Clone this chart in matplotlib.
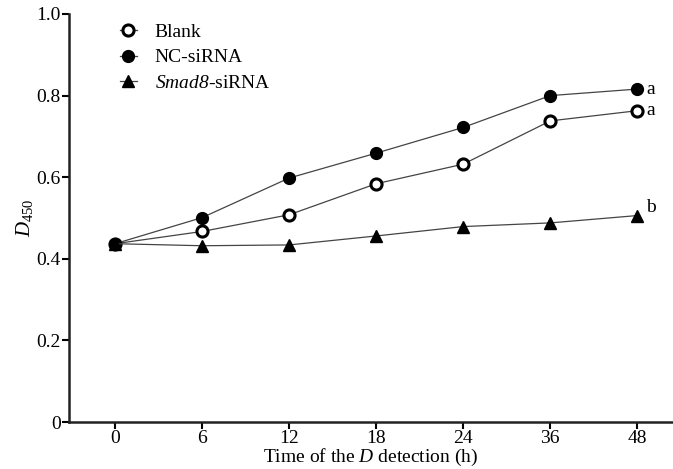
import matplotlib
matplotlib.use("Agg")
import matplotlib.pyplot as plt
import numpy as np

plt.rcParams['font.family'] = ['Liberation Serif', 'DejaVu Serif']
plt.rcParams['mathtext.fontset'] = 'custom'
plt.rcParams['mathtext.rm'] = 'Liberation Serif'
plt.rcParams['mathtext.it'] = 'Liberation Serif:italic'
# 'it' draws digits upright, so bf is mapped to the italic face for "Smad8"
plt.rcParams['mathtext.bf'] = 'Liberation Serif:italic'

# data
times = ['0', '6', '12', '18', '24', '36', '48']
blank = [0.437, 0.467, 0.508, 0.584, 0.632, 0.738, 0.763]
nc_sirna = [0.437, 0.501, 0.598, 0.659, 0.722, 0.800, 0.816]
smad8_sirna = [0.437, 0.432, 0.434, 0.456, 0.479, 0.488, 0.506]
letters = ['a', 'a', 'b']

x = np.arange(len(times))

fig = plt.figure(figsize=(6.73, 4.69), dpi=100)
ax = fig.add_axes([69/673, 47/469, (673-69)/673, (422-14)/469])

lc = '#444444'
ax.plot(x, blank, color=lc, lw=0.9, marker='o', ms=8, mfc='white',
        mec='black', mew=2.2, label='Blank', zorder=3)
ax.plot(x, nc_sirna, color=lc, lw=0.9, marker='o', ms=8.5, mfc='black',
        mec='black', label='NC-siRNA', zorder=3)
ax.plot(x, smad8_sirna, color=lc, lw=0.9, marker='^', ms=8.5, mfc='black',
        mec='black', label=r'$\mathbf{Smad8}$-siRNA', zorder=3)

# significance letters next to the last points
for series, lab in zip([nc_sirna, blank, smad8_sirna], letters):
    dy = 0.02 if lab == 'b' else 0.0
    ax.text(x[-1] + 0.1, series[-1] + dy, lab, fontsize=14, va='center', ha='left')

ax.set_xlim(-0.53, 6.41)
ax.set_ylim(0, 1.0)
ax.set_xticks(x)
ax.set_xticklabels(times)
ax.set_yticks([0, 0.2, 0.4, 0.6, 0.8, 1.0])
ax.set_yticklabels(['0', '0.2', '0.4', '0.6', '0.8', '1.0'])
ax.tick_params(axis='both', direction='out', length=5, width=1.5, labelsize=14, pad=1)

for s in ['top', 'right']:
    ax.spines[s].set_visible(False)
for s in ['left', 'bottom']:
    ax.spines[s].set_linewidth(1.8)
    ax.spines[s].set_color('#222222')

ax.set_xlabel('Time of the $D$ detection (h)', fontsize=14, labelpad=0)
ax.set_ylabel('$D_{450}$', fontsize=15, labelpad=1)

leg = ax.legend(loc='upper left', bbox_to_anchor=(0.055, 1.02), frameon=False,
                fontsize=14, handlelength=0.9, handletextpad=0.9, labelspacing=0.4)

fig.savefig('out.png', dpi=100)
